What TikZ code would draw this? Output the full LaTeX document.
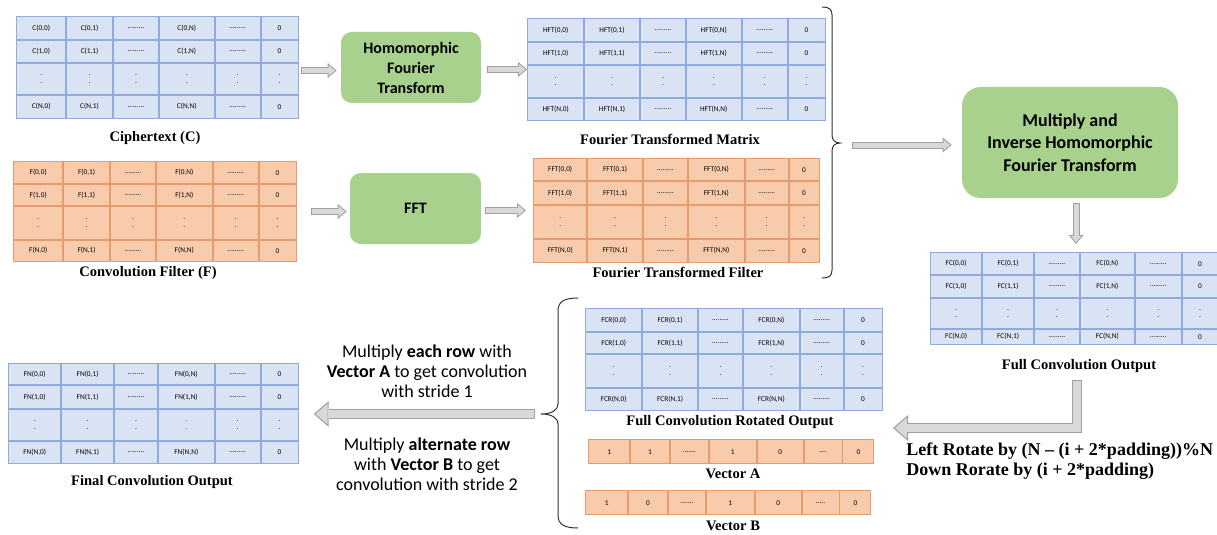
\documentclass[tikz,border=0pt]{standalone}
\usepackage{fontspec}
\setmainfont{Liberation Serif}
\setsansfont{Carlito}
\usepackage{xcolor}
\usetikzlibrary{matrix,calc,arrows.meta}

\definecolor{cellblue}{RGB}{218,227,243}
\definecolor{edgeblue}{RGB}{143,170,220}
\definecolor{cellorange}{RGB}{248,203,173}
\definecolor{edgeorange}{RGB}{228,156,110}
\definecolor{boxgreen}{RGB}{169,209,142}
\definecolor{arrowedge}{RGB}{160,160,160}
\definecolor{arrowfill}{RGB}{217,217,217}

\newcommand{\rowdots}{.........}
\newcommand{\twodots}{\shortstack{.\\[2pt].}}
\newcommand{\matbody}[1]{%
#1(0,0) \& #1(0,1) \& \rowdots \& #1(0,N) \& \rowdots \& 0 \\
#1(1,0) \& #1(1,1) \& \rowdots \& #1(1,N) \& \rowdots \& 0 \\
\twodots \& \twodots \& \twodots \& \twodots \& \twodots \& \twodots \\
#1(N,0) \& #1(N,1) \& \rowdots \& #1(N,N) \& \rowdots \& 0 \\}

\tikzset{
  mat/.style={matrix of nodes, ampersand replacement=\&, inner sep=0pt, column sep=0pt, row sep=0pt,
    nodes={draw, line width=0.65pt, outer sep=0pt, inner sep=1pt, anchor=center,
      font=\sffamily\fontsize{5.5}{6.5}\selectfont}},
  bluemat/.style={mat, nodes={fill=cellblue, draw=edgeblue}},
  orangemat/.style={mat, nodes={fill=cellorange, draw=edgeorange}},
  sixcols/.style n args={6}{
    column 1/.style={nodes={minimum width=#1*0.75pt}},
    column 2/.style={nodes={minimum width=#2*0.75pt}},
    column 3/.style={nodes={minimum width=#3*0.75pt}},
    column 4/.style={nodes={minimum width=#4*0.75pt}},
    column 5/.style={nodes={minimum width=#5*0.75pt}},
    column 6/.style={nodes={minimum width=#6*0.75pt}}},
  sevencols/.style n args={7}{
    column 1/.style={nodes={minimum width=#1*0.75pt}},
    column 2/.style={nodes={minimum width=#2*0.75pt}},
    column 3/.style={nodes={minimum width=#3*0.75pt}},
    column 4/.style={nodes={minimum width=#4*0.75pt}},
    column 5/.style={nodes={minimum width=#5*0.75pt}},
    column 6/.style={nodes={minimum width=#6*0.75pt}},
    column 7/.style={nodes={minimum width=#7*0.75pt}}},
  fourrows/.style n args={4}{
    row 1/.style={nodes={minimum height=#1*0.75pt}},
    row 2/.style={nodes={minimum height=#2*0.75pt}},
    row 3/.style={nodes={minimum height=#3*0.75pt}},
    row 4/.style={nodes={minimum height=#4*0.75pt}}},
  greenbox/.style={fill=boxgreen, rounded corners=8pt, align=center,
    font=\sffamily\bfseries\fontsize{12}{15}\selectfont},
  matlabel/.style={font=\rmfamily\bfseries\fontsize{10.9}{13}\selectfont, inner sep=0pt},
  stridetext/.style={font=\sffamily\fontsize{13.5}{15}\selectfont, align=center, inner sep=0pt},
  rottext/.style={font=\rmfamily\bfseries\fontsize{13.5}{15}\selectfont, align=left, inner sep=0pt},
  bracepen/.style={draw=black!80, line width=0.75pt},
  thinarrow/.style={draw=arrowedge, line width=5.25pt,
    -{Triangle[length=6.75pt,width=11.25pt,line width=0pt]},
    postaction={draw=arrowfill, line width=3.75pt, shorten >=1.17pt, shorten <=0.75pt,
      -{Triangle[length=4.83pt,width=8.05pt,line width=0pt]}}},
  bigarrow/.style={draw=arrowedge, line width=7.5pt, line join=miter,
    -{Triangle[length=11.25pt,width=19.5pt,line width=0pt]},
    postaction={draw=arrowfill, line width=5.7pt, shorten >=1.37pt, shorten <=0.9pt,
      -{Triangle[length=8.98pt,width=15.57pt,line width=0pt]}}}
}

\begin{document}
\begin{tikzpicture}[x=0.75pt,y=0.75pt,yscale=-1,xscale=1]
\useasboundingbox (0,0) rectangle (1217,535);

%Shape: Matrix [ciphertext]
\matrix (cmat) [bluemat, sixcols={49}{46}{45}{55}{45}{37}, fourrows={23}{22}{31}{23}, anchor=north west] at (16,16) {\matbody{C}};
%Shape: Matrix [fourier transformed matrix]
\matrix (hmat) [bluemat, sixcols={56}{55}{45}{55}{45}{37}, fourrows={23}{22}{32}{22}, anchor=north west] at (527,18) {\matbody{HFT}};
%Shape: Matrix [filter]
\matrix (fmat) [orangemat, sixcols={49}{46}{45}{56}{45}{37}, fourrows={22}{21}{33}{21}, anchor=north west] at (13,161) {\matbody{F}};
%Shape: Matrix [fourier transformed filter]
\matrix (ffmat) [orangemat, sixcols={53}{55}{44}{56}{43}{30}, fourrows={22}{23}{33}{23}, anchor=north west] at (533,158) {\matbody{FFT}};
%Shape: Matrix [full convolution]
\matrix (fcmat) [bluemat, sixcols={51}{51}{45}{54}{46}{36}, fourrows={22}{22}{30}{15}, anchor=north west] at (930,252) {\matbody{FC}};
%Shape: Matrix [rotated]
\matrix (frmat) [bluemat, sixcols={56}{55}{44}{56}{43}{38}, fourrows={23}{21}{33}{22}, anchor=north west] at (585,308) {\matbody{FCR}};
%Shape: Matrix [final]
\matrix (fnmat) [bluemat, sixcols={52}{52}{43}{56}{45}{37}, fourrows={21}{23}{31}{22}, anchor=north west] at (8,363) {\matbody{FN}};
%Shape: Vectors
\matrix (vamat) [orangemat, sevencols={41}{39}{38}{47}{46}{38}{31}, nodes={minimum height=24*0.75pt}, anchor=north west] at (588,439) {1 \& 1 \& ....... \& 1 \& 0 \& .... \& 0 \\};
\matrix (vbmat) [orangemat, sevencols={42}{39}{37}{48}{46}{37}{31}, nodes={minimum height=24*0.75pt}, anchor=north west] at (585,490) {1 \& 0 \& ....... \& 1 \& 0 \& ..... \& 0 \\};

% Text Node
\node[matlabel] (clab) at (155,138) {Ciphertext (C)};
% Text Node
\node[matlabel] (hlab) at (670,139) {Fourier Transformed Matrix};
% Text Node
\node[matlabel] (flab) at (148,273) {Convolution Filter (F)};
% Text Node
\node[matlabel] (fflab) at (678,272) {Fourier Transformed Filter};
% Text Node
\node[matlabel] (fclab) at (1079,366) {Full Convolution Output};
% Text Node
\node[matlabel] (frlab) at (730,422) {Full Convolution Rotated Output};
% Text Node
\node[matlabel] (valab) at (733,474) {Vector A};
% Text Node
\node[matlabel] (vblab) at (733,526) {Vector B};
% Text Node
\node[matlabel] (fnlab) at (152,482) {Final Convolution Output};

%Shape: Rounded Rect
\node[greenbox, minimum width=105pt, minimum height=53.25pt] (hfe) at (411,67.5) {Homomorphic\\Fourier\\Transform};
%Shape: Rounded Rect
\node[greenbox, minimum width=98.25pt, minimum height=53.25pt] (fft) at (415.5,208.5) {FFT};
%Shape: Rounded Rect
\node[greenbox, rounded corners=14pt, minimum width=162pt, minimum height=83.25pt,
  font=\sffamily\bfseries\fontsize{13.5}{17}\selectfont] (mif) at (1070,142.5) {Multiply and\\Inverse Homomorphic\\Fourier Transform};

%Shape: Braces
\coordinate (rbtip) at (840,143);
\draw[bracepen] (822,7) .. controls (829,7) and (832,9) .. (832,15) -- (832,135) .. controls (832,140) and (835,143) .. (rbtip) .. controls (835,143) and (832,146) .. (832,151) -- (832,270) .. controls (832,276) and (829,278) .. (822,278);
\coordinate (lbtip) at (541,414);
\draw[bracepen] (578,298) .. controls (565,298) and (558,301) .. (558,311) -- (558,404) .. controls (558,410) and (552,414) .. (lbtip) .. controls (552,414) and (558,418) .. (558,424) -- (558,515) .. controls (558,525) and (565,528) .. (578,528);

%Straight Lines
\draw[thinarrow] ($(cmat.east |- hfe.west)+(2,3)$) -- ($(hfe.west)+(-4,3)$);
\draw[thinarrow] ($(hfe.east)+(6,2)$) -- ($(hfe.east -| hmat.west)+(0,2)$);
\draw[thinarrow] ($(fmat.east |- fft.west)+(14,3)$) -- ($(fft.west)+(-3,3)$);
\draw[thinarrow] ($(fft.east)+(4,2)$) -- ($(fft.east -| ffmat.west)+(-7,2)$);
\draw[thinarrow] ($(rbtip)+(12,2)$) -- ($(mif.west)+(-10,2.5)$);
\draw[thinarrow] ($(mif.south)+(6,5)$) -- ($(mif.south |- fcmat.north)+(6,-8)$);
\coordinate (rottip) at (893,428);
\draw[bigarrow] ($(fclab.south)+(-2,7)$) |- (rottip);
\draw[bigarrow] ($(lbtip)+(-6,0)$) -- ($(lbtip -| fnmat.east)+(15,0)$);

% Text Node
\node[stridetext] (stride1) at (427,371) {Multiply \textbf{each row} with\\\textbf{Vector A} to get convolution\\with stride 1};
% Text Node
\node[stridetext] (stride2) at (427,464) {Multiply \textbf{alternate row}\\with \textbf{Vector B} to get\\convolution with stride 2};
% Text Node
\node[rottext, anchor=north west] (rottxt) at (906,443) {Left Rotate by (N – (i + 2*padding))\%N\\Down Rorate by (i + 2*padding)};

\end{tikzpicture}
\end{document}
